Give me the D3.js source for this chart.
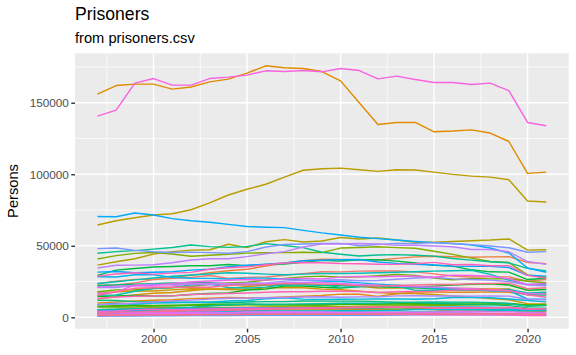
<!DOCTYPE html>
<html>
<head>
<meta charset="utf-8">
<script src="https://cdn.jsdelivr.net/npm/d3@7"></script>
<style>
  html, body { margin: 0; padding: 0; background: #fff; }
  svg { display: block; font-family: "Liberation Sans", Arial, Helvetica, sans-serif; }
</style>
</head>
<body>
<svg id="chart" width="576" height="355"></svg>
<script>
// ---------------- data ----------------
const years = [1997,1998,1999,2000,2001,2002,2003,2004,2005,2006,2007,2008,2009,2010,2011,2012,2013,2014,2015,2016,2017,2018,2019,2020,2021];
const xTicks = [2000, 2005, 2010, 2015, 2020];
const yTicks = [0, 50000, 100000, 150000];

const stateNames = ["Alabama","Alaska","Arizona","Arkansas","California","Colorado","Connecticut","Delaware","Florida","Georgia","Hawaii","Idaho","Illinois","Indiana","Iowa","Kansas","Kentucky","Louisiana","Maine","Maryland","Massachusetts","Michigan","Minnesota","Mississippi","Missouri","Montana","Nebraska","Nevada","New Hampshire","New Jersey","New Mexico","New York","North Carolina","North Dakota","Ohio","Oklahoma","Oregon","Pennsylvania","Rhode Island","South Carolina","South Dakota","Tennessee","Texas","Utah","Vermont","Virginia","Washington","West Virginia","Wisconsin","Wyoming"];

const alabama = [22290,22650,24100,26330,27290,27950,29250,27240,27890,28240,29410,30510,31870,31760,32270,32430,32380,31770,30350,28880,28180,28270,28300,25330,26410];
const alaska = [3970,4100,3950,4170,4570,4500,4530,4550,4810,5000,5100,5000,5300,5600,5600,5600,5080,5790,5340,4380,4370,4400,4560,4580,4700];
const arizona = [23480,25310,26510,26510,27710,29360,31170,32520,33570,35890,37750,39590,40630,40480,40020,40080,41180,42260,42720,42320,42000,42250,42440,38360,37560];
const arkansas = [10020,10650,11410,11915,12330,13090,13330,13810,13540,13730,14310,14720,15210,16200,16110,14650,16440,17770,17710,17540,17540,17800,17540,16090,16900];
const california = [156000,162000,163000,163000,159500,161000,164600,166500,170700,175800,174400,173900,171800,165300,150000,134800,136200,136200,129700,130200,131000,128800,122900,100600,101500];
const colorado = [12900,14300,15700,16800,17300,18800,19700,20000,21500,22500,22800,23300,22800,22800,21900,20500,20400,20600,20600,20100,20100,19900,19800,16000,16100];
const connecticut = [17600,17800,18500,18400,19200,20000,19800,19500,19400,20600,20700,20700,19700,19300,18300,17400,16600,16600,16000,14900,14100,13200,12300,9600,9300];
const delaware = [5400,5600,6100,6900,6800,6800,6900,6900,7000,7200,7300,7100,6800,6600,6700,6900,6900,6500,6500,6300,6000,5800,5500,4700,4600];
const florida = [64500,67500,69600,71500,72400,75200,80000,85500,89500,93000,98000,102800,103800,104300,103100,102000,103100,103000,101500,99900,98700,98000,96200,81300,80600];
const georgia = [36500,38800,40900,44200,45900,47000,47200,51100,48700,52800,54300,52700,53400,55800,54700,55400,54000,52500,52500,53000,53500,54000,54800,47000,47200];
const hawaii = [4500,4900,5000,5050,5400,5600,5600,5900,6150,5900,5950,6000,5900,6000,6000,5800,5600,5900,5900,5800,5500,5400,5000,4400,4100];
const idaho = [3950,4100,4850,5500,5700,5800,5900,6350,6800,7100,7300,7300,7400,7400,7750,7800,8000,8000,8100,8400,8700,9000,9400,8600,9000];
const illinois = [40800,43100,44700,45300,44300,42700,43400,44100,44900,45100,45200,45500,45200,48400,48800,49300,48700,48300,46200,44000,41400,39000,38300,29700,27800];
const indiana = [17900,19200,19300,20100,20600,21600,23100,24000,24500,26100,27100,28300,28800,28000,28300,29100,29900,29300,27400,26300,27100,26900,27000,25200,24200];
const iowa = [7200,7400,7200,7900,7900,8400,8500,8500,8700,8900,8700,8800,8600,9400,9100,8700,8700,8800,8800,8900,9000,9100,9400,8200,8500];
const kansas = [7800,8200,8600,8300,8500,8700,9100,9200,9100,8800,8700,8600,8600,9000,9200,9300,9600,9700,9800,9900,10000,10000,9700,8600,8700];
const kentucky = [14600,15000,15300,14900,15000,15900,16600,17100,19100,19700,21800,21800,21000,20500,21500,21600,21000,21200,21800,22500,23100,23400,22600,18900,19500];
const louisiana = [29300,33000,34100,35200,35500,36000,36000,36900,36100,37000,37300,38400,39800,39400,40200,40200,39300,38000,36400,35800,33200,31800,31600,26400,27300];
const maine = [1700,1600,1700,1700,1700,1900,2000,2000,2000,2100,2200,2200,2200,2200,2200,2100,2200,2200,2300,2300,2400,2300,2200,1600,1700];
const maryland = [22200,22600,23100,23500,24000,24200,24200,23300,22700,22900,22800,23300,22300,22600,22100,21500,21100,20700,20000,19000,18900,18900,18600,15800,15600];
const massachusetts = [11900,11800,11000,10700,10700,10400,10500,10200,10700,11000,11000,11400,11300,11300,11300,11000,10600,10300,9800,9400,8900,8700,8200,6600,6400];
const michigan = [44800,45900,46600,47700,48800,50600,49400,48900,49500,51500,50200,48700,45500,44100,42900,43600,43800,43400,42800,41100,40000,38800,38100,34200,32400];
const minnesota = [5300,5600,6000,6200,6600,7100,7900,8700,9300,9100,9200,9400,9500,9800,9800,9900,10300,10600,10800,10600,10600,10300,9700,7700,8200];
const mississippi = [15400,15600,18200,20200,20800,22700,23200,20800,20500,21100,22800,22600,22700,21100,21400,22300,21900,18800,18900,19000,19200,19100,19500,17000,17500];
const missouri = [23700,24900,26200,27500,28700,29600,30300,31100,30800,30200,29800,30200,30600,30600,30800,31200,31500,31900,32300,32600,32900,30000,26000,23000,23100];
const montana = [2200,2500,2700,3100,3300,3300,3600,3900,3500,3600,3400,3600,3600,3700,3700,3600,3600,3700,3700,3800,3800,4400,4600,4600,4800];
const nebraska = [3400,3700,3700,3900,4000,4000,4000,4100,4500,4400,4500,4500,4500,4600,4600,4700,4900,5400,5400,5300,5300,5500,5700,5600,5500];
const nevada = [8900,9700,9300,10000,10200,10500,10500,11400,11800,12900,13600,12700,12500,12600,12700,12800,12900,12600,13000,13800,13800,13700,12800,11800,10800];
const newHampshire = [2100,2200,2300,2300,2500,2500,2400,2400,2500,2800,2900,2900,2700,2800,2700,2800,2900,2900,2900,2700,2600,2600,2400,2100,2100];
const newJersey = [28400,28200,29800,29800,27900,27300,27200,26800,27400,27400,26800,25900,25400,25000,24100,23200,22500,21600,20500,19600,19600,18600,18600,12800,12700];
const newMexico = [4700,4800,5000,5300,5600,6000,6300,6400,6700,6600,6500,6400,6500,6700,6700,6600,6900,6900,7100,7200,7300,7000,6700,5700,5600];
const newYork = [70500,70300,72900,71500,69000,67500,66500,65000,63500,63000,62700,60800,59000,57500,56000,55000,54000,53000,52200,51500,50500,48500,45000,34500,31500];
const northCarolina = [31600,32000,31100,31500,31900,33000,33600,35400,36400,37100,38000,39500,39900,40300,40400,38700,37700,37100,36600,35800,35600,35600,34800,29400,28800];
const northDakota = [800,900,900,1100,1100,1200,1200,1300,1400,1400,1400,1500,1500,1500,1400,1500,1600,1700,1800,1800,1700,1800,1800,1600,1800];
const ohio = [48000,48500,46800,45800,45300,45600,45200,44800,45900,49200,50900,51200,51600,51700,50000,50900,51700,51500,52200,51600,50800,49900,48600,45500,45900];
const oklahoma = [20900,20900,22400,23200,23000,23000,22800,23300,24000,23900,25300,25900,26000,26300,25600,25700,26600,27500,28000,26900,26400,26000,25000,22500,22100];
const oregon = [8700,9300,9900,10600,11500,12000,12700,13300,13400,13700,13900,14200,14400,14000,14300,14300,15000,15100,14900,14900,14800,14900,14800,12600,12200];
const pennsylvania = [34500,36400,36500,36800,38100,40100,40900,40900,42400,44400,45900,49200,51300,51300,51600,51200,50300,50400,49900,49300,47400,47400,45800,39000,37000];
const rhodeIsland = [3400,3400,3300,3300,3200,3500,3500,3400,3600,3800,4000,3800,3700,3400,3300,3200,3300,3200,3100,2900,2800,2700,2700,2200,2300];
const southCarolina = [21200,21800,22000,21800,22000,23700,23700,23700,23200,23600,24000,24300,24300,23600,22900,22400,21900,21400,21000,20600,20000,19300,18600,16600,16300];
const southDakota = [2100,2300,2500,2600,2800,2900,3000,3100,3500,3400,3300,3300,3400,3400,3500,3600,3600,3600,3600,3900,3900,3800,3800,3400,3400];
const tennessee = [16700,17700,22500,22200,23700,24800,25400,25900,26400,26000,26800,27200,26900,28100,28500,28400,28700,28800,28000,29500,29300,28700,27000,22900,23600];
const texas = [140600,144800,163700,166900,162300,162300,166900,167900,169300,172300,171800,172500,171600,173900,172500,166700,168600,166200,164100,164100,162700,163700,158500,136200,133900];
const utah = [4300,4400,5400,5600,5400,5600,5800,6000,6400,6400,6400,6500,6500,6800,7000,7000,7100,7000,6500,6300,6300,6500,6700,5700,6000];
const vermont = [1200,1300,1400,1700,1800,1900,1900,2000,2100,2200,2200,2100,2200,2100,2100,2000,2000,2000,1800,1800,1800,1700,1600,1300,1300];
const virginia = [28700,30300,31200,30200,30900,31400,33600,34700,35300,36700,38000,38300,38100,37600,37400,37100,37000,37500,38400,36800,36900,36100,36100,29300,27200];
const washington = [13200,14200,14700,14900,15000,16000,16300,16700,17000,17500,17900,17900,18200,18200,18000,17300,17900,18100,18300,19000,19400,19300,18700,15700,14000];
const westVirginia = [3000,3500,3800,3900,4200,4500,4800,5100,5300,5700,5900,6100,6400,6700,6900,7100,7000,7000,6800,6800,6900,6600,7000,6100,5900];
const wisconsin = [15400,17800,20300,20700,21000,21000,21000,22300,22700,22700,23700,23400,23200,23000,22000,21900,22300,22600,22900,23000,23500,23700,23900,20000,20700];
const wyoming = [1500,1600,1700,1700,1700,1800,1900,1900,2000,2100,2100,2100,2100,2100,2200,2300,2300,2400,2400,2300,2400,2500,2500,2200,2200];

const seriesValues = [alabama,alaska,arizona,arkansas,california,colorado,connecticut,delaware,florida,georgia,hawaii,idaho,illinois,indiana,iowa,kansas,kentucky,louisiana,maine,maryland,massachusetts,michigan,minnesota,mississippi,missouri,montana,nebraska,nevada,newHampshire,newJersey,newMexico,newYork,northCarolina,northDakota,ohio,oklahoma,oregon,pennsylvania,rhodeIsland,southCarolina,southDakota,tennessee,texas,utah,vermont,virginia,washington,westVirginia,wisconsin,wyoming];

// ------------- colour helper: R's hcl() (polar CIE-Luv) -------------
function hclLuv(h, c, l) {
  const hr = h * Math.PI / 180;
  const U = c * Math.cos(hr), V = c * Math.sin(hr);
  const Xn = 95.047, Yn = 100.0, Zn = 108.883;
  const den = Xn + 15 * Yn + 3 * Zn;
  const un = 4 * Xn / den, vn = 9 * Yn / den;
  const Y = l > 8 ? Yn * Math.pow((l + 16) / 116, 3) : Yn * l / 903.3;
  const u = U / (13 * l) + un, v = V / (13 * l) + vn;
  const X = 9.0 * Y * u / (4 * v);
  const Z = -X / 3 - 5 * Y + 3 * Y / v;
  const x = X / 100, y = Y / 100, z = Z / 100;
  const lin = [
     3.240479 * x - 1.537150 * y - 0.498535 * z,
    -0.969256 * x + 1.875992 * y + 0.041556 * z,
     0.055648 * x - 0.204043 * y + 1.057311 * z
  ];
  const g = lin.map(t => {
    const s = t <= 0.0031308 ? 12.92 * t : 1.055 * Math.pow(t, 1 / 2.4) - 0.055;
    return Math.round(Math.max(0, Math.min(1, s)) * 255);
  });
  return d3.rgb(g[0], g[1], g[2]).formatHex();
}
const n = stateNames.length;
const colours = stateNames.map((s, i) => hclLuv(15 + i * 360 / n, 100, 65));

// ---------------- layout ----------------
const svg = d3.select("#chart");
const W = 576, H = 355;
const panel = { left: 75, right: 568.7, top: 53.3, bottom: 328.7 };

const allVals = seriesValues.flat();
const [ymin, ymax] = d3.extent(allVals);
const yr = ymax - ymin;
const [xmin, xmax] = d3.extent(years);
const xrng = xmax - xmin;

const x = d3.scaleLinear().domain([xmin - 0.05 * xrng, xmax + 0.05 * xrng]).range([panel.left, panel.right]);
const y = d3.scaleLinear().domain([ymin - 0.05 * yr, ymax + 0.05 * yr]).range([panel.bottom, panel.top]);

svg.append("rect").attr("width", W).attr("height", H).attr("fill", "#ffffff");
svg.append("rect")
  .attr("x", panel.left).attr("y", panel.top)
  .attr("width", panel.right - panel.left).attr("height", panel.bottom - panel.top)
  .attr("fill", "#EBEBEB");

// minor grid
const xMinor = [1997.5, 2002.5, 2007.5, 2012.5, 2017.5].filter(v => x(v) >= panel.left && x(v) <= panel.right);
const yMinor = [25000, 75000, 125000, 175000].filter(v => y(v) >= panel.top && y(v) <= panel.bottom);
const grid = svg.append("g");
grid.selectAll(".xmin").data(xMinor).join("line")
  .attr("x1", d => x(d)).attr("x2", d => x(d)).attr("y1", panel.top).attr("y2", panel.bottom)
  .attr("stroke", "#fff").attr("stroke-width", 0.71);
grid.selectAll(".ymin").data(yMinor).join("line")
  .attr("y1", d => y(d)).attr("y2", d => y(d)).attr("x1", panel.left).attr("x2", panel.right)
  .attr("stroke", "#fff").attr("stroke-width", 0.71);
// major grid
grid.selectAll(".xmaj").data(xTicks).join("line")
  .attr("x1", d => x(d)).attr("x2", d => x(d)).attr("y1", panel.top).attr("y2", panel.bottom)
  .attr("stroke", "#fff").attr("stroke-width", 1.42);
grid.selectAll(".ymaj").data(yTicks).join("line")
  .attr("y1", d => y(d)).attr("y2", d => y(d)).attr("x1", panel.left).attr("x2", panel.right)
  .attr("stroke", "#fff").attr("stroke-width", 1.42);

// lines
const lineGen = d3.line().x((d, i) => x(years[i])).y(d => y(d));
svg.append("g").selectAll("path").data(seriesValues).join("path")
  .attr("d", d => lineGen(d))
  .attr("fill", "none")
  .attr("stroke", (d, i) => colours[i])
  .attr("stroke-width", 1.42)
  .attr("stroke-linejoin", "round")
  .attr("stroke-linecap", "butt");

// axes
const xAxis = d3.axisBottom(x).tickValues(xTicks).tickFormat(d3.format("d")).tickSize(3.67).tickPadding(2.5);
const yAxis = d3.axisLeft(y).tickValues(yTicks).tickFormat(d3.format("d")).tickSize(3.67).tickPadding(2.5);

const gx = svg.append("g").attr("transform", `translate(0,${panel.bottom})`).call(xAxis);
const gy = svg.append("g").attr("transform", `translate(${panel.left},0)`).call(yAxis);
[gx, gy].forEach(g => {
  g.select(".domain").remove();
  g.selectAll(".tick line").attr("stroke", "#333333").attr("stroke-width", 1.42);
  g.selectAll(".tick text").attr("fill", "#4D4D4D").attr("font-size", "11.73px")
    .attr("font-family", "'Liberation Sans', Arial, sans-serif");
});

// titles
svg.append("text").attr("x", panel.left).attr("y", 20)
  .attr("font-size", "17.6px").attr("fill", "#000").text("Prisoners");
svg.append("text").attr("x", panel.left).attr("y", 42.5)
  .attr("font-size", "14.67px").attr("fill", "#000").text("from prisoners.csv");
svg.append("text")
  .attr("transform", `translate(18.3,${(panel.top + panel.bottom) / 2}) rotate(-90)`)
  .attr("text-anchor", "middle")
  .attr("font-size", "14.67px").attr("fill", "#000").text("Persons");
</script>
</body>
</html>
